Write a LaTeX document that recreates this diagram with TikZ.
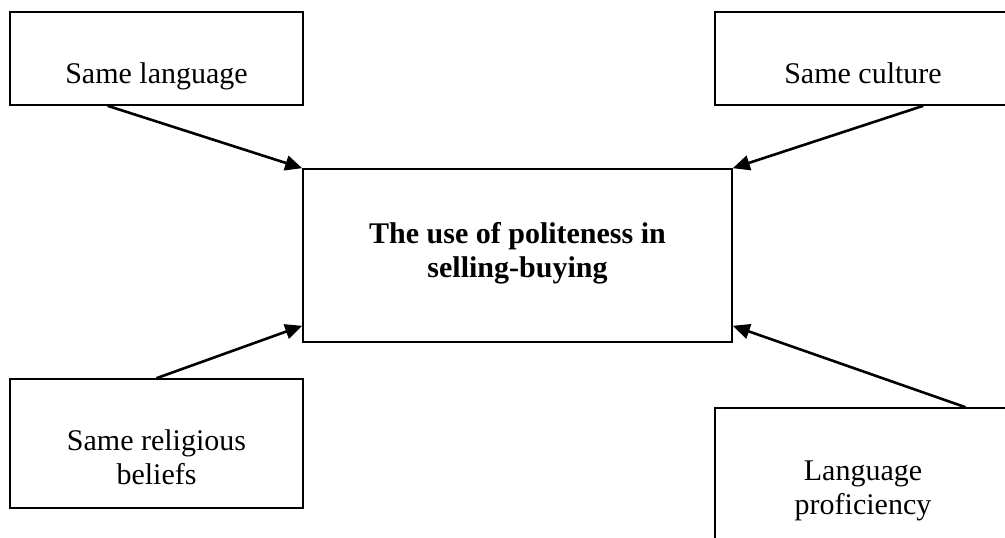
\documentclass[tikz,border=0pt]{standalone}
\usepackage{fontspec}
\setmainfont{Liberation Serif}
\usetikzlibrary{arrows.meta,calc}
\begin{document}
\begin{tikzpicture}[x=1pt,y=-1pt,
  box/.style={draw=black,line width=1.6pt,rectangle,inner sep=0pt,fill=white},
  txt/.style={anchor=base,inner sep=0pt,font=\fontsize{30}{34}\selectfont},
  btxt/.style={txt,font=\fontsize{30}{34}\selectfont\bfseries},
  conn/.style={line width=2.6pt,-{Triangle[length=17pt,width=15pt]}}
]
\useasboundingbox (0,0) rectangle (1005,538);
\clip (0,0) rectangle (1005,538);
\fill[white] (0,0) rectangle (1005,538);
% boxes
\node[box,minimum width=293pt,minimum height=93pt] (lang) at (156.5,58.5) {};
\node[box,minimum width=295pt,minimum height=93pt] (cult) at (862.5,58.5) {};
\node[box,minimum width=429pt,minimum height=173pt] (ctr) at (517.5,255.5) {};
\node[box,minimum width=293pt,minimum height=129pt] (rel) at (156.5,443.5) {};
\node[box,minimum width=295pt,minimum height=152pt] (prof) at (862.5,484) {};
% texts
\node[txt] (langt) at (156.5,83) {Same language};
\node[txt] (cultt) at (863,83) {Same culture};
\node[btxt] (ctr1) at (517.5,243) {The use of politeness in};
\node[btxt] (ctr2) at (517.5,277) {selling-buying};
\node[txt] (rel1) at (156.5,450) {Same religious};
\node[txt] (rel2) at (156.5,484) {beliefs};
\node[txt] (prof1) at (863,480) {Language};
\node[txt] (prof2) at (863,514) {proficiency};
% connectors
\draw[conn] ($(lang.south west)!0.334!(lang.south east)$) -- (ctr.north west);
\draw[conn] ($(cult.south west)!0.705!(cult.south east)$) -- (ctr.north east);
\draw[conn] (rel.north) -- ($(ctr.south west)+(0,-17)$);
\draw[conn] ($(prof.north west)!0.847!(prof.north east)$) -- ($(ctr.south east)+(0,-17)$);
\end{tikzpicture}
\end{document}
